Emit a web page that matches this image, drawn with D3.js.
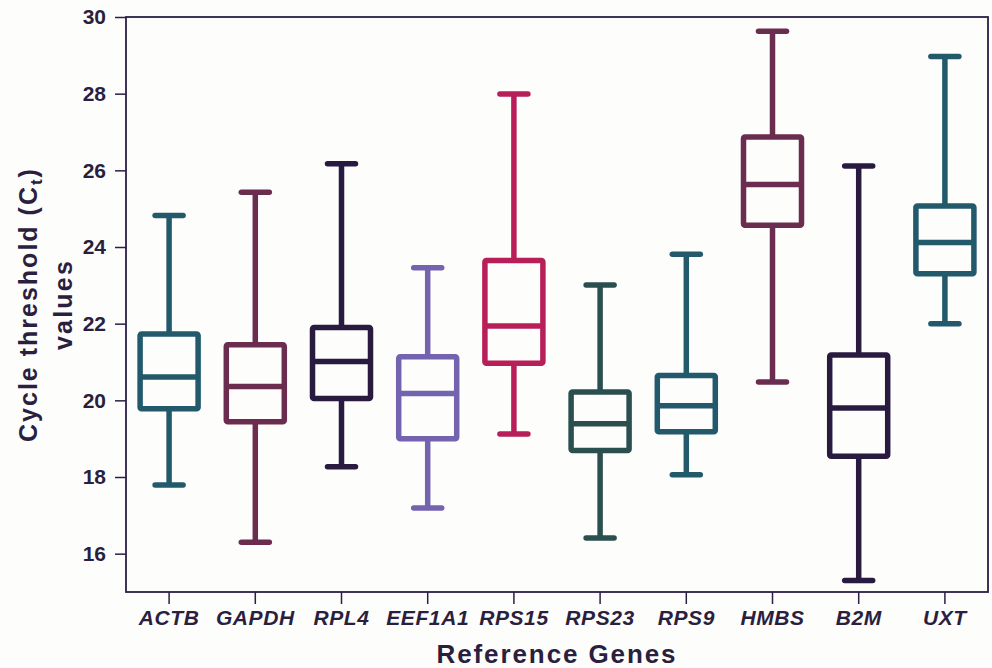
<!DOCTYPE html>
<html>
<head>
<meta charset="utf-8">
<script src="https://cdn.jsdelivr.net/npm/d3@7"></script>
<style>
  html, body { margin: 0; padding: 0; background: #fdfdfc; }
  svg { display: block; }
  text { font-family: "Liberation Sans", Arial, sans-serif; font-weight: bold; fill: #2b1f3f; }
</style>
</head>
<body>
<svg id="chart" width="992" height="668"></svg>
<script>
const genes   = ["ACTB", "GAPDH", "RPL4", "EEF1A1", "RPS15", "RPS23", "RPS9", "HMBS", "B2M", "UXT"];
const mins    = [17.79, 16.30, 18.27, 17.19, 19.12, 16.41, 18.06, 20.48, 15.30, 22.00];
const q1s     = [19.78, 19.44, 20.05, 19.00, 20.97, 18.69, 19.18, 24.57, 18.54, 23.30];
const medians = [20.61, 20.36, 21.01, 20.18, 21.94, 19.39, 19.86, 25.63, 19.80, 24.12];
const q3s     = [21.73, 21.45, 21.90, 21.14, 23.65, 20.22, 20.65, 26.87, 21.18, 25.07];
const maxs    = [24.82, 25.43, 26.17, 23.46, 27.99, 23.01, 23.81, 29.63, 26.11, 28.97];
const colors  = ["#22596b", "#6a2d4f", "#291b40", "#7463ae", "#b81f58", "#2b4f4e", "#22596b", "#6a2d4f", "#291b40", "#22596b"];
const yTicks  = [16, 18, 20, 22, 24, 26, 28, 30];

const data = genes.map((g, i) => ({
  gene: g, min: mins[i], q1: q1s[i], median: medians[i], q3: q3s[i], max: maxs[i], color: colors[i]
}));

const svg = d3.select("#chart");
const pLeft = 126, pRight = 988, pTop = 17, pBottom = 592;
const axisColor = "#2b1f45";

const x = d3.scaleBand().domain(genes).range([pLeft, pRight]).padding(0);
const y = d3.scaleLinear().domain([15, 30]).range([pBottom, pTop]);

// frame
svg.append("rect")
  .attr("x", pLeft).attr("y", pTop)
  .attr("width", pRight - pLeft).attr("height", pBottom - pTop)
  .attr("fill", "none").attr("stroke", axisColor).attr("stroke-width", 1.8);

// y axis
const yAxis = svg.append("g")
  .attr("transform", `translate(${pLeft},0)`)
  .call(d3.axisLeft(y).tickValues(yTicks).tickSize(11).tickSizeOuter(0).tickPadding(9));
yAxis.select(".domain").remove();
yAxis.selectAll(".tick line").attr("stroke", axisColor).attr("stroke-width", 1.5);
yAxis.selectAll(".tick text")
  .attr("font-size", 21).attr("font-family", "'Liberation Sans', Arial, sans-serif")
  .attr("font-weight", "bold").attr("fill", "#2b1f3f");

// x axis
const xAxis = svg.append("g")
  .attr("transform", `translate(0,${pBottom})`)
  .call(d3.axisBottom(x).tickSize(12).tickSizeOuter(0).tickPadding(10));
xAxis.select(".domain").remove();
xAxis.selectAll(".tick line").attr("stroke", axisColor).attr("stroke-width", 1.5);
xAxis.selectAll(".tick text")
  .attr("font-size", 21).attr("font-style", "italic")
  .attr("letter-spacing", 0.6)
  .attr("font-family", "'Liberation Sans', Arial, sans-serif")
  .attr("font-weight", "bold").attr("fill", "#2b1f3f")
  .attr("dy", null).attr("y", 33);

// boxes
const boxW = 58, capW = 28, sw = 5.5;
const g = svg.append("g").selectAll("g").data(data).join("g")
  .attr("transform", d => `translate(${x(d.gene) + x.bandwidth() / 2},0)`)
  .attr("stroke", d => d.color).attr("stroke-width", sw)
  .attr("fill", "none").attr("stroke-linejoin", "round");

// whiskers
g.append("line").attr("x1", 0).attr("x2", 0)
  .attr("y1", d => y(d.max)).attr("y2", d => y(d.q3));
g.append("line").attr("x1", 0).attr("x2", 0)
  .attr("y1", d => y(d.q1)).attr("y2", d => y(d.min));
// caps
g.append("line").attr("stroke-linecap", "round")
  .attr("x1", -capW / 2).attr("x2", capW / 2)
  .attr("y1", d => y(d.max)).attr("y2", d => y(d.max));
g.append("line").attr("stroke-linecap", "round")
  .attr("x1", -capW / 2).attr("x2", capW / 2)
  .attr("y1", d => y(d.min)).attr("y2", d => y(d.min));
// box
g.append("rect")
  .attr("x", -boxW / 2).attr("width", boxW)
  .attr("y", d => y(d.q3)).attr("height", d => y(d.q1) - y(d.q3))
  .attr("rx", 1.5);
// median
g.append("line").attr("x1", -boxW / 2).attr("x2", boxW / 2)
  .attr("y1", d => y(d.median)).attr("y2", d => y(d.median));

// x title
svg.append("text")
  .attr("x", (pLeft + pRight) / 2).attr("y", 663)
  .attr("text-anchor", "middle").attr("font-size", 26)
  .attr("letter-spacing", 1.9)
  .text("Reference Genes");

// y title
const cy = (pTop + pBottom) / 2;
const yt = svg.append("text")
  .attr("transform", `translate(37,${cy}) rotate(-90)`)
  .attr("text-anchor", "middle").attr("font-size", 25)
  .attr("letter-spacing", 2);
yt.append("tspan").text("Cycle threshold (C");
yt.append("tspan").attr("font-size", 17).attr("dy", 5).text("t");
yt.append("tspan").attr("dy", -5).text(")");

svg.append("text")
  .attr("transform", `translate(72,${cy}) rotate(-90)`)
  .attr("text-anchor", "middle").attr("font-size", 25)
  .attr("letter-spacing", 2.2)
  .text("values");
</script>
</body>
</html>
